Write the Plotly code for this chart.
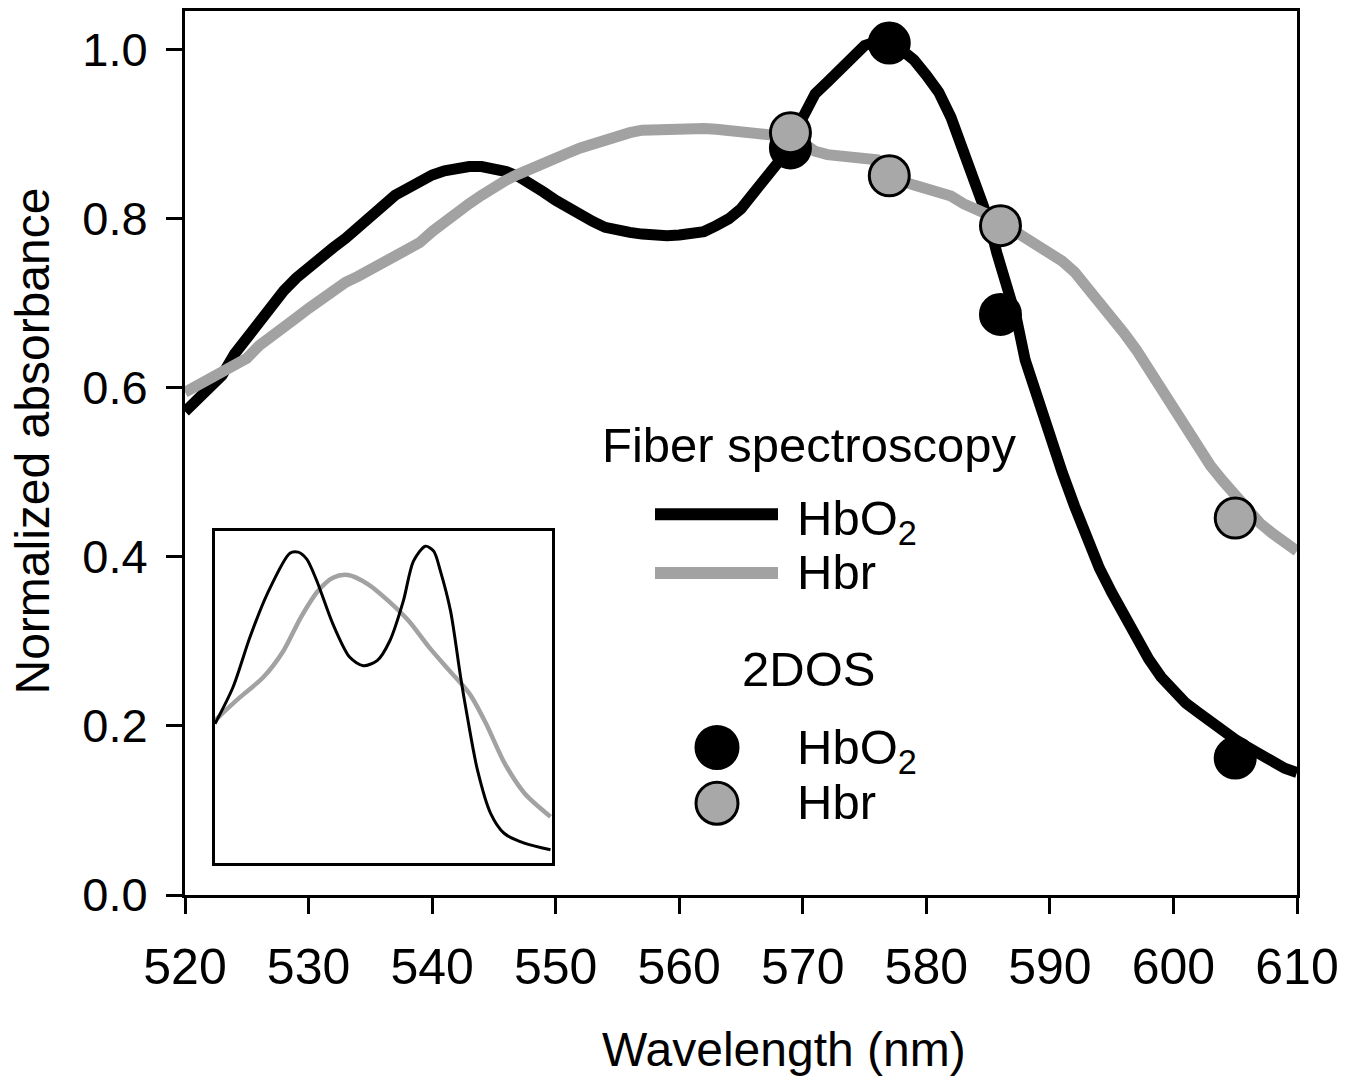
import plotly.graph_objects as go

# ---------------- data ----------------
wl_hbo2 = [520, 521, 522, 523, 524, 525, 526, 527, 528, 529, 530, 531, 532, 533, 534, 535,
           536, 537, 538, 539, 540, 541, 542, 543, 544, 545, 546, 547, 548, 549, 550, 551,
           552, 553, 554, 555, 556, 557, 558, 559, 560, 561, 562, 563, 564, 565, 566, 567,
           568, 569, 570, 571, 572, 573, 574, 575, 576, 577, 578, 579, 580, 581, 582, 583,
           584, 584.6, 585, 585.7, 586.5, 587.3, 588, 589, 590, 591, 592, 593, 594, 595,
           596, 597, 598, 599, 600, 601, 602, 603, 604, 605, 606, 607, 608, 609, 610]
abs_hbo2 = [0.572, 0.585, 0.598, 0.615, 0.640, 0.660, 0.680, 0.700, 0.715, 0.730, 0.743, 0.755,
            0.766, 0.777, 0.790, 0.805, 0.818, 0.828, 0.836, 0.845, 0.852, 0.857, 0.860, 0.862,
            0.862, 0.860, 0.856, 0.850, 0.842, 0.832, 0.822, 0.813, 0.805, 0.797, 0.790, 0.786,
            0.784, 0.782, 0.780, 0.780, 0.781, 0.782, 0.785, 0.792, 0.800, 0.812, 0.830, 0.848,
            0.865, 0.885, 0.920, 0.948, 0.962, 0.975, 0.992, 1.005, 1.010, 1.010, 1.000, 0.988,
            0.970, 0.950, 0.920, 0.880, 0.845, 0.820, 0.800, 0.760, 0.722, 0.682, 0.633, 0.585,
            0.540, 0.500, 0.460, 0.420, 0.387, 0.358, 0.330, 0.303, 0.279, 0.258, 0.240, 0.227,
            0.216, 0.204, 0.193, 0.184, 0.175, 0.166, 0.157, 0.150, 0.145]

wl_hbr = list(range(520, 611))
abs_hbr = [0.595, 0.603, 0.610, 0.617, 0.625, 0.635, 0.650, 0.660, 0.672, 0.683, 0.694, 0.705,
           0.716, 0.725, 0.732, 0.740, 0.748, 0.756, 0.763, 0.772, 0.785, 0.797, 0.808, 0.818,
           0.828, 0.838, 0.846, 0.853, 0.860, 0.866, 0.872, 0.878, 0.884, 0.889, 0.895, 0.899,
           0.902, 0.905, 0.906, 0.907, 0.907, 0.907, 0.907, 0.906, 0.905, 0.903, 0.901, 0.899,
           0.898, 0.897, 0.890, 0.880, 0.876, 0.874, 0.872, 0.871, 0.870, 0.855, 0.845, 0.840,
           0.835, 0.831, 0.827, 0.818, 0.812, 0.805, 0.796, 0.787, 0.776, 0.767, 0.758, 0.750,
           0.737, 0.720, 0.702, 0.685, 0.665, 0.645, 0.622, 0.598, 0.573, 0.550, 0.528, 0.508,
           0.490, 0.472, 0.455, 0.440, 0.428, 0.416, 0.407]

dos_wl = [569, 577, 586, 605]
dos_hbo2 = [0.884, 1.008, 0.687, 0.162]
dos_hbr = [0.902, 0.851, 0.792, 0.446]

# inset: reference spectra (arbitrary units)
ins_wl_hbo2 = [520, 524.8, 529.3, 533.9, 540, 542.2, 544.5, 547.2, 551.5, 556, 559.6, 563.3,
               566.7, 570.3, 573, 576.2, 578.4, 580.2, 582.9, 585.6, 587.4, 590.1, 593.6,
               597.2, 602.6, 609.6]
ins_hbo2 = [0.42, 0.53, 0.68, 0.81, 0.934, 0.937, 0.916, 0.85, 0.72, 0.62, 0.595, 0.61,
            0.67, 0.79, 0.91, 0.955, 0.94, 0.88, 0.76, 0.56, 0.44, 0.28, 0.15, 0.09, 0.06, 0.04]
ins_wl_hbr = [520, 521.3, 526.7, 532.9, 538.3, 542.9, 547.5, 551.5, 555.5, 560.9, 566.3,
              571.7, 577.2, 582.6, 588, 592.4, 597.4, 602.7, 609.6]
ins_hbr = [0.43, 0.444, 0.50, 0.56, 0.64, 0.74, 0.82, 0.86, 0.868, 0.84, 0.79, 0.73, 0.65,
           0.58, 0.51, 0.42, 0.30, 0.21, 0.14]

x_ticks = [520, 530, 540, 550, 560, 570, 580, 590, 600, 610]
y_ticks = [0.0, 0.2, 0.4, 0.6, 0.8, 1.0]

BLACK = "#000000"
GRAY = "#a2a2a2"
MGRAY = "#a8a8a8"
FONT = "Liberation Sans, Arial, Helvetica, sans-serif"

fig = go.Figure()

fig.add_trace(go.Scatter(x=wl_hbo2, y=abs_hbo2, mode="lines",
                         line=dict(color=BLACK, width=11), showlegend=False))
fig.add_trace(go.Scatter(x=wl_hbr, y=abs_hbr, mode="lines",
                         line=dict(color=GRAY, width=11), showlegend=False))
fig.add_trace(go.Scatter(x=dos_wl, y=dos_hbo2, mode="markers",
                         marker=dict(color=BLACK, size=40, line=dict(color=BLACK, width=3)),
                         showlegend=False))
fig.add_trace(go.Scatter(x=dos_wl, y=dos_hbr, mode="markers",
                         marker=dict(color=MGRAY, size=40, line=dict(color=BLACK, width=3)),
                         showlegend=False))

# inset
fig.add_trace(go.Scatter(x=ins_wl_hbr, y=ins_hbr, mode="lines", xaxis="x2", yaxis="y2",
                         line=dict(color=GRAY, width=4.5, shape="spline", smoothing=0.8),
                         showlegend=False))
fig.add_trace(go.Scatter(x=ins_wl_hbo2, y=ins_hbo2, mode="lines", xaxis="x2", yaxis="y2",
                         line=dict(color=BLACK, width=3, shape="spline", smoothing=0.8),
                         showlegend=False))

L, R, T, B = 185, 60, 8, 187
W, H = 1357, 1082
pw, ph = W - L - R, H - T - B


def px(x):
    return (x - L) / pw


def py(y):
    return (H - B - y) / ph


axis_common = dict(showgrid=False, zeroline=False, showline=True, linecolor=BLACK,
                   linewidth=3, ticks="outside", ticklen=16, tickwidth=3, tickcolor=BLACK,
                   mirror=True)

fig.update_layout(
    width=W, height=H,
    margin=dict(l=L, r=R, t=T, b=B),
    paper_bgcolor="white", plot_bgcolor="white",
    xaxis=dict(range=[520, 610], tickvals=x_ticks, ticktext=[str(v) for v in x_ticks],
               tickfont=dict(family=FONT, size=50, color=BLACK), ticklabelstandoff=10,
               **axis_common),
    yaxis=dict(range=[0, 1.046], tickvals=y_ticks, ticktext=[f"{v:.1f}" for v in y_ticks],
               tickfont=dict(family=FONT, size=47, color=BLACK), ticklabelstandoff=9,
               **axis_common),
    xaxis2=dict(domain=[px(215), px(552)], anchor="y2", range=[520, 610], showgrid=False,
                zeroline=False, showline=True, mirror=True, linecolor=BLACK, linewidth=3,
                showticklabels=False, ticks=""),
    yaxis2=dict(domain=[py(863), py(530)], anchor="x2", range=[0, 1], showgrid=False,
                zeroline=False, showline=True, mirror=True, linecolor=BLACK, linewidth=3,
                showticklabels=False, ticks=""),
    showlegend=False,
)

annos = [
    dict(text="Wavelength (nm)", x=px(784), y=py(1050), xanchor="center", yanchor="middle",
         size=48),
    dict(text="Normalized absorbance", x=px(33), y=py(440), xanchor="center",
         yanchor="middle", textangle=-90, size=48),
    dict(text="Fiber spectroscopy", x=px(600), y=py(443), xanchor="left", yanchor="middle",
         size=49),
    dict(text="HbO<sub>2</sub>", x=px(795), y=py(520), xanchor="left", yanchor="middle",
         size=49),
    dict(text="Hbr", x=px(795), y=py(571), xanchor="left", yanchor="middle", size=49),
    dict(text="2DOS", x=px(740), y=py(668), xanchor="left", yanchor="middle", size=49),
    dict(text="HbO<sub>2</sub>", x=px(795), y=py(750), xanchor="left", yanchor="middle",
         size=49),
    dict(text="Hbr", x=px(795), y=py(802), xanchor="left", yanchor="middle", size=49),
]
for a in annos:
    size = a.pop("size")
    a.update(xref="paper", yref="paper", showarrow=False,
             font=dict(family=FONT, color=BLACK, size=size))
    fig.add_annotation(**a)

shapes = [
    dict(type="line", xref="paper", yref="paper", x0=px(655), x1=px(778), y0=py(513),
         y1=py(513), line=dict(color=BLACK, width=12)),
    dict(type="line", xref="paper", yref="paper", x0=px(655), x1=px(778), y0=py(572),
         y1=py(572), line=dict(color=GRAY, width=12)),
    dict(type="circle", xref="paper", yref="paper", xsizemode="pixel", ysizemode="pixel",
         xanchor=px(717), yanchor=py(747), x0=-21, x1=21, y0=-21, y1=21,
         fillcolor=BLACK, line=dict(color=BLACK, width=3)),
    dict(type="circle", xref="paper", yref="paper", xsizemode="pixel", ysizemode="pixel",
         xanchor=px(717), yanchor=py(803), x0=-21, x1=21, y0=-21, y1=21,
         fillcolor=MGRAY, line=dict(color=BLACK, width=3)),
]
for s in shapes:
    fig.add_shape(**s)

fig.write_html("out.html")
